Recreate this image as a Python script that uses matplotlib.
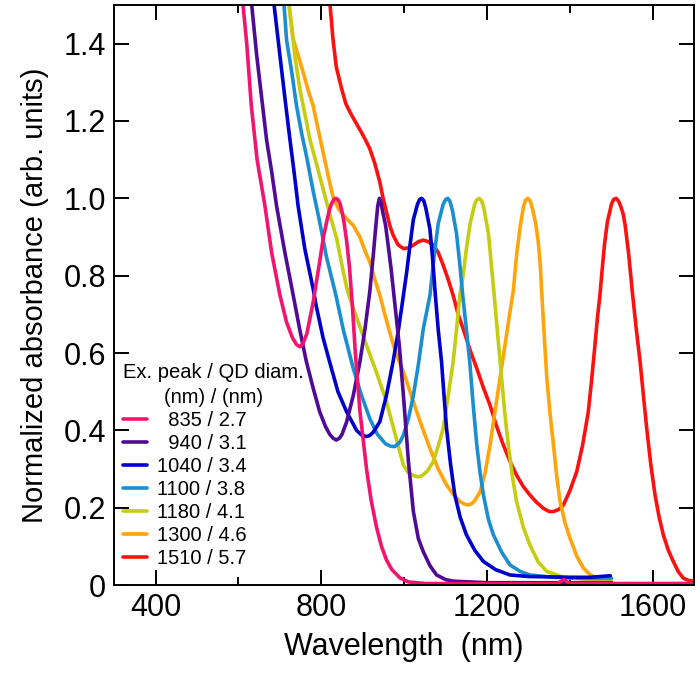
"""
Normalized absorption spectra of PbS quantum dots of several sizes
"""
import matplotlib
matplotlib.use('Agg')
import matplotlib.pyplot as plt
from matplotlib.ticker import MultipleLocator, FuncFormatter

plt.rcParams['font.family'] = ['Liberation Sans', 'DejaVu Sans']

# legend labels: exciton peak (nm) / QD diameter (nm)
labels = ['  835 / 2.7', '  940 / 3.1', '1040 / 3.4', '1100 / 3.8',
          '1180 / 4.1', '1300 / 4.6', '1510 / 5.7']
colors = ['#f4146f', '#4f0a96', '#0000cc', '#1a8ed0',
          '#c6cc12', '#ffa40a', '#ff1010']

# spectra: wavelength (nm), normalized absorbance
wl_835 = [611, 620, 631, 645, 664, 680, 700, 716, 730, 740, 748, 756, 765, 780,
          795, 805, 815, 820, 825, 830, 835, 840, 845, 850, 855, 861, 868, 875,
          882, 893, 909, 920, 933, 945, 957, 970, 990, 1010, 1050, 1200, 1370,
          1385, 1400, 1550, 1700]
ab_835 = [1.50, 1.40, 1.24, 1.10, 0.98, 0.86, 0.75, 0.68, 0.64, 0.622, 0.616,
          0.625, 0.65, 0.73, 0.83, 0.90, 0.95, 0.972, 0.987, 0.997, 1.0, 0.997,
          0.987, 0.965, 0.935, 0.89, 0.82, 0.72, 0.60, 0.45, 0.30, 0.22, 0.15,
          0.10, 0.065, 0.04, 0.018, 0.008, 0.004, 0.003, 0.004, 0.014, 0.004,
          0.004, 0.004]

wl_940 = [632, 644, 656, 668, 680, 692, 712, 732, 748, 764, 780, 796, 810, 820,
          828, 836, 844, 850, 861, 877, 893, 905, 917, 925, 932, 936, 940, 944,
          948, 955, 961, 968, 976, 988, 998, 1010, 1022, 1034, 1046, 1062, 1078,
          1100, 1118, 1200, 1500]
ab_940 = [1.50, 1.37, 1.26, 1.15, 1.07, 0.98, 0.86, 0.75, 0.66, 0.577, 0.51,
          0.448, 0.41, 0.39, 0.38, 0.375, 0.38, 0.39, 0.422, 0.49, 0.577, 0.66,
          0.76, 0.85, 0.935, 0.98, 1.0, 0.99, 0.965, 0.93, 0.88, 0.82, 0.74,
          0.62, 0.49, 0.32, 0.19, 0.12, 0.086, 0.05, 0.026, 0.014, 0.01, 0.006,
          0.006]

wl_1040 = [686, 700, 712, 724, 734, 744, 760, 780, 788, 804, 820, 840, 861, 885,
           897, 909, 917, 925, 941, 957, 973, 986, 998, 1006, 1014, 1022, 1032,
           1037, 1042, 1047, 1052, 1062, 1068, 1075, 1082, 1090, 1096, 1102,
           1112, 1122, 1135, 1150, 1170, 1191, 1220, 1255, 1300, 1400, 1450,
           1497]
ab_1040 = [1.50, 1.37, 1.26, 1.154, 1.07, 0.98, 0.87, 0.767, 0.72, 0.64, 0.577,
           0.50, 0.448, 0.40, 0.388, 0.384, 0.387, 0.395, 0.422, 0.49, 0.577,
           0.66, 0.749, 0.81, 0.88, 0.945, 0.985, 0.997, 1.0, 0.994, 0.975,
           0.92, 0.85, 0.75, 0.66, 0.577, 0.49, 0.405, 0.31, 0.233, 0.175, 0.13,
           0.09, 0.061, 0.04, 0.026, 0.022, 0.02, 0.02, 0.024]

wl_1100 = [710, 716, 728, 740, 752, 764, 780, 796, 812, 835, 853, 877, 897, 917,
           935, 955, 967, 977, 990, 998, 1010, 1022, 1034, 1046, 1062, 1072,
           1082, 1094, 1100, 1105, 1110, 1116, 1126, 1134, 1141, 1150, 1158,
           1166, 1175, 1183, 1191, 1203, 1215, 1235, 1255, 1280, 1303, 1360,
           1420, 1500]
ab_1100 = [1.50, 1.41, 1.33, 1.24, 1.17, 1.11, 1.02, 0.939, 0.85, 0.75, 0.66,
           0.56, 0.49, 0.43, 0.39, 0.365, 0.359, 0.358, 0.37, 0.388, 0.43, 0.49,
           0.57, 0.663, 0.749, 0.85, 0.935, 0.985, 0.997, 1.0, 0.993, 0.97,
           0.91, 0.83, 0.75, 0.66, 0.577, 0.47, 0.362, 0.29, 0.233, 0.17, 0.13,
           0.085, 0.052, 0.035, 0.026, 0.02, 0.018, 0.018]

wl_1180 = [722, 736, 748, 760, 772, 788, 804, 820, 837, 849, 861, 869, 889, 909,
           933, 957, 978, 998, 1010, 1022, 1032, 1042, 1056, 1070, 1082, 1094,
           1106, 1118, 1126, 1134, 1142, 1150, 1159, 1170, 1175, 1181, 1187,
           1192, 1203, 1210, 1217, 1226, 1235, 1243, 1251, 1261, 1271, 1287,
           1303, 1323, 1344, 1384, 1440, 1500]
ab_1180 = [1.50, 1.37, 1.283, 1.22, 1.154, 1.09, 1.025, 0.96, 0.896, 0.83,
           0.77, 0.74, 0.68, 0.62, 0.55, 0.474, 0.39, 0.31, 0.29, 0.283, 0.28,
           0.282, 0.295, 0.319, 0.36, 0.405, 0.49, 0.577, 0.66, 0.749, 0.80,
           0.87, 0.935, 0.985, 0.996, 1.0, 0.993, 0.975, 0.91, 0.83, 0.75, 0.64,
           0.534, 0.44, 0.362, 0.28, 0.216, 0.15, 0.104, 0.06, 0.035, 0.02,
           0.015, 0.015]

wl_1300 = [722, 732, 744, 756, 768, 780, 792, 804, 816, 829, 843, 861, 877, 893,
           905, 917, 929, 941, 953, 966, 980, 998, 1014, 1030, 1046, 1062, 1082,
           1102, 1118, 1134, 1146, 1154, 1162, 1170, 1183, 1195, 1207, 1219,
           1231, 1243, 1255, 1263, 1271, 1280, 1288, 1293, 1298, 1304, 1310,
           1317, 1323, 1328, 1332, 1338, 1344, 1352, 1360, 1368, 1376, 1388,
           1400, 1416, 1432, 1448, 1464, 1500]
ab_1300 = [1.50, 1.412, 1.37, 1.326, 1.28, 1.24, 1.18, 1.12, 1.06, 1.0, 0.97,
           0.947, 0.93, 0.90, 0.865, 0.835, 0.79, 0.75, 0.70, 0.65, 0.60, 0.551,
           0.50, 0.448, 0.40, 0.353, 0.30, 0.259, 0.235, 0.216, 0.209, 0.207,
           0.21, 0.218, 0.241, 0.29, 0.362, 0.45, 0.534, 0.62, 0.706, 0.76,
           0.853, 0.93, 0.98, 0.996, 1.0, 0.993, 0.97, 0.935, 0.89, 0.83, 0.75,
           0.64, 0.534, 0.44, 0.362, 0.28, 0.216, 0.16, 0.121, 0.075, 0.044,
           0.027, 0.018, 0.012]

wl_1510 = [821, 828, 836, 849, 859, 869, 881, 897, 907, 917, 929, 941, 949, 957,
           965, 973, 985, 998, 1010, 1022, 1034, 1046, 1058, 1070, 1082, 1094,
           1106, 1118, 1130, 1142, 1158, 1175, 1191, 1207, 1223, 1239, 1255,
           1271, 1287, 1303, 1320, 1336, 1350, 1360, 1372, 1384, 1400, 1416,
           1430, 1444, 1452, 1460, 1466, 1472, 1477, 1483, 1490, 1500, 1505,
           1511, 1517, 1522, 1528, 1533, 1541, 1551, 1560, 1569, 1577, 1585,
           1595, 1605, 1615, 1625, 1637, 1649, 1661, 1673, 1685, 1700]
ab_1510 = [1.50, 1.412, 1.34, 1.283, 1.245, 1.223, 1.20, 1.17, 1.15, 1.128,
           1.09, 1.042, 1.00, 0.965, 0.93, 0.905, 0.88, 0.87, 0.872, 0.879,
           0.888, 0.892, 0.888, 0.879, 0.86, 0.827, 0.79, 0.749, 0.70, 0.663,
           0.61, 0.56, 0.51, 0.465, 0.41, 0.362, 0.32, 0.284, 0.255, 0.233,
           0.213, 0.198, 0.19, 0.19, 0.195, 0.207, 0.245, 0.293, 0.36, 0.448,
           0.53, 0.62, 0.69, 0.749, 0.81, 0.88, 0.939, 0.985, 0.997, 1.0, 0.993,
           0.98, 0.96, 0.93, 0.86, 0.75, 0.66, 0.577, 0.49, 0.405, 0.31, 0.233,
           0.175, 0.13, 0.09, 0.061, 0.035, 0.018, 0.012, 0.01]

wavelengths = [wl_835, wl_940, wl_1040, wl_1100, wl_1180, wl_1300, wl_1510]
absorbances = [ab_835, ab_940, ab_1040, ab_1100, ab_1180, ab_1300, ab_1510]

fig = plt.figure(figsize=(7.0, 6.84), dpi=100)
ax = fig.add_axes([0.163, 0.1447, 0.829, 0.848])

# draw 835 nm last so it sits on top of the flat tails, like the original
order = [6, 5, 4, 3, 2, 1, 0]
lines = {}
for i in order:
    ln, = ax.plot(wavelengths[i], absorbances[i], color=colors[i], lw=2.6,
                  solid_joinstyle='round', solid_capstyle='round')
    lines[i] = ln

ax.set_xlim(300, 1700)
ax.set_ylim(0, 1.5)
ax.xaxis.set_major_locator(MultipleLocator(400))
ax.xaxis.set_minor_locator(MultipleLocator(200))
ax.yaxis.set_major_locator(MultipleLocator(0.2))
ax.yaxis.set_major_formatter(FuncFormatter(lambda v, p: '0' if abs(v) < 1e-9 else '%.1f' % v))

ax.tick_params(which='both', direction='in', top=True, right=True, width=1.4,
               labelsize=22)
ax.tick_params(which='major', length=11, pad=6)
ax.tick_params(which='minor', length=6)
for sp in ax.spines.values():
    sp.set_linewidth(1.4)

ax.set_xlabel('Wavelength  (nm)', fontsize=22, labelpad=6)
ax.set_ylabel('Normalized absorbance (arb. units)', fontsize=21, labelpad=10)

leg = ax.legend([lines[i] for i in range(7)], labels,
                title='Ex. peak / QD diam.\n(nm) / (nm)',
                loc='upper left', bbox_to_anchor=(0.015, 0.382),
                frameon=False, fontsize=14.5, title_fontsize=14.5,
                handlelength=1.2, handletextpad=0.5, labelspacing=0.2,
                borderpad=0, borderaxespad=0, alignment='left')
leg.get_title().set_multialignment('center')
leg.get_title().set_linespacing(1.35)

plt.savefig('out.png', dpi=100)
